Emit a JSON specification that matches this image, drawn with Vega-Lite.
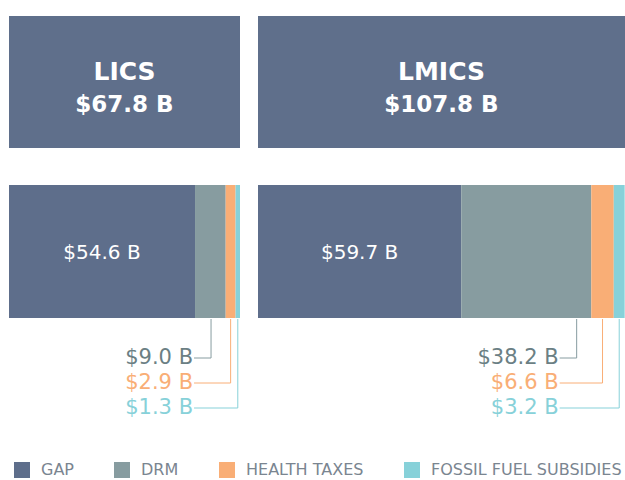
{
  "$schema": "https://vega.github.io/schema/vega-lite/v6.json",
  "padding": {"left": 9, "top": 16, "right": 0, "bottom": 0},
  "config": {"view": {"stroke": null}, "font": "DejaVu Sans", "concat": {"spacing": 18}},
  "datasets": {
    "parts": [
      {"country": "LICS", "category": "GAP", "value": 54.6, "rank": 0},
      {"country": "LICS", "category": "DRM", "value": 9.0, "rank": 1},
      {"country": "LICS", "category": "HEALTH TAXES", "value": 2.9, "rank": 2},
      {"country": "LICS", "category": "FOSSIL FUEL SUBSIDIES", "value": 1.3, "rank": 3},
      {"country": "LMICS", "category": "GAP", "value": 59.7, "rank": 0},
      {"country": "LMICS", "category": "DRM", "value": 38.2, "rank": 1},
      {"country": "LMICS", "category": "HEALTH TAXES", "value": 6.6, "rank": 2},
      {"country": "LMICS", "category": "FOSSIL FUEL SUBSIDIES", "value": 3.2, "rank": 3}
    ],
    "totals": [
      {"country": "LICS", "total": 67.8},
      {"country": "LMICS", "total": 107.8}
    ]
  },
  "vconcat": [
    {
      "hconcat": [
        {
          "width": 231, "height": 132,
          "data": {"name": "totals"},
          "transform": [
            {"filter": "datum.country === 'LICS'"},
            {"calculate": "'$' + format(datum.total, '.1f') + ' B'", "as": "amount"}
          ],
          "layer": [
            {"mark": {"type": "rect", "color": "#5f6f8b"},
             "encoding": {"x": {"field": "total", "type": "quantitative", "scale": {"domain": [0, 67.8], "nice": false}, "axis": null}, "x2": {"datum": 0}}},
            {"mark": {"type": "text", "color": "white", "fontSize": 25, "fontWeight": "bold", "baseline": "middle", "dy": -10},
             "encoding": {"text": {"field": "country"}}},
            {"mark": {"type": "text", "color": "white", "fontSize": 23, "fontWeight": "bold", "baseline": "middle", "dy": 23},
             "encoding": {"text": {"field": "amount"}}}
          ]
        },
        {
          "width": 367, "height": 132,
          "data": {"name": "totals"},
          "transform": [
            {"filter": "datum.country === 'LMICS'"},
            {"calculate": "'$' + format(datum.total, '.1f') + ' B'", "as": "amount"}
          ],
          "layer": [
            {"mark": {"type": "rect", "color": "#5f6f8b"},
             "encoding": {"x": {"field": "total", "type": "quantitative", "scale": {"domain": [0, 107.8], "nice": false}, "axis": null}, "x2": {"datum": 0}}},
            {"mark": {"type": "text", "color": "white", "fontSize": 25, "fontWeight": "bold", "baseline": "middle", "dy": -10},
             "encoding": {"text": {"field": "country"}}},
            {"mark": {"type": "text", "color": "white", "fontSize": 23, "fontWeight": "bold", "baseline": "middle", "dy": 23},
             "encoding": {"text": {"field": "amount"}}}
          ]
        }
      ]
    },
    {
      "hconcat": [
        {
          "spacing": 0,
          "vconcat": [
            {
              "width": 231, "height": 133,
              "data": {"name": "parts"},
              "transform": [
                {"filter": "datum.country === 'LICS'"},
                {"stack": "value", "groupby": ["country"], "sort": [{"field": "rank"}], "as": ["x0", "x1"]},
                {"calculate": "'$' + format(datum.value, '.1f') + ' B'", "as": "label"},
                {"calculate": "(datum.x0 + datum.x1) / 2", "as": "mid"}
              ],
              "layer": [
                {"mark": {"type": "rect"},
                 "encoding": {
                   "x": {"field": "x0", "type": "quantitative", "scale": {"domain": [0, 67.8], "nice": false}, "axis": null},
                   "x2": {"field": "x1"},
                   "color": {"field": "category", "type": "nominal",
                     "scale": {"domain": ["GAP", "DRM", "HEALTH TAXES", "FOSSIL FUEL SUBSIDIES"], "range": ["#5e6e8b", "#879ca0", "#f9ae76", "#87d1d9"]},
                     "legend": {"orient": "bottom", "direction": "horizontal", "title": null, "symbolType": "square", "symbolSize": 256, "symbolStrokeWidth": 0, "labelFontSize": 16, "labelFont": "DejaVu Sans", "labelColor": "#7a8590", "labelOffset": 11, "labelLimit": 0, "columnPadding": 40, "padding": 5, "offset": 10}}
                 }},
                {"transform": [{"filter": "datum.category === 'GAP'"}],
                 "mark": {"type": "text", "color": "white", "fontSize": 20, "baseline": "middle", "dy": 1},
                 "encoding": {"x": {"field": "mid", "type": "quantitative"}, "text": {"field": "label"}}}
              ]
            },
            {
              "width": 231, "height": 128,
              "data": {"name": "parts"},
              "transform": [
                {"filter": "datum.country === 'LICS'"},
                {"stack": "value", "groupby": ["country"], "sort": [{"field": "rank"}], "as": ["x0", "x1"]},
                {"calculate": "'$' + format(datum.value, '.1f') + ' B'", "as": "label"},
                {"filter": "datum.rank > 0"},
                {"calculate": "datum.category === 'DRM' ? datum.x1 - 4.3 : (datum.x0 + datum.x1) / 2", "as": "lead"},
                {"joinaggregate": [{"op": "min", "field": "lead", "as": "textAt"}], "groupby": ["country"]}
              ],
              "layer": [
                {"mark": {"type": "rule", "strokeWidth": 1},
                 "encoding": {
                   "x": {"field": "lead", "type": "quantitative", "scale": {"domain": [0, 67.8], "nice": false}, "axis": null},
                   "y": {"field": "rank", "type": "quantitative", "scale": {"domain": [-0.56, 4.56], "reverse": true, "nice": false, "zero": false}, "axis": null},
                   "y2": {"datum": -0.56},
                   "color": {"field": "category", "type": "nominal"}
                 }},
                {"mark": {"type": "rule", "strokeWidth": 1, "xOffset": -17},
                 "encoding": {
                   "x": {"field": "textAt", "type": "quantitative"},
                   "x2": {"field": "lead"},
                   "y": {"field": "rank", "type": "quantitative"},
                   "color": {"field": "category", "type": "nominal"}
                 }},
                {"mark": {"type": "text", "align": "right", "baseline": "middle", "dx": -18, "fontSize": 21},
                 "encoding": {
                   "x": {"field": "textAt", "type": "quantitative"},
                   "y": {"field": "rank", "type": "quantitative"},
                   "text": {"field": "label"},
                   "color": {"condition": {"test": "datum.category === 'DRM'", "value": "#6b7f84"}, "field": "category", "type": "nominal"}
                 }}
              ]
            }
          ]
        },
        {
          "spacing": 0,
          "vconcat": [
            {
              "width": 367, "height": 133,
              "data": {"name": "parts"},
              "transform": [
                {"filter": "datum.country === 'LMICS'"},
                {"stack": "value", "groupby": ["country"], "sort": [{"field": "rank"}], "as": ["x0", "x1"]},
                {"calculate": "'$' + format(datum.value, '.1f') + ' B'", "as": "label"},
                {"calculate": "(datum.x0 + datum.x1) / 2", "as": "mid"}
              ],
              "layer": [
                {"mark": {"type": "rect"},
                 "encoding": {
                   "x": {"field": "x0", "type": "quantitative", "scale": {"domain": [0, 107.8], "nice": false}, "axis": null},
                   "x2": {"field": "x1"},
                   "color": {"field": "category", "type": "nominal"}
                 }},
                {"transform": [{"filter": "datum.category === 'GAP'"}],
                 "mark": {"type": "text", "color": "white", "fontSize": 20, "baseline": "middle", "dy": 1},
                 "encoding": {"x": {"field": "mid", "type": "quantitative"}, "text": {"field": "label"}}}
              ]
            },
            {
              "width": 367, "height": 128,
              "data": {"name": "parts"},
              "transform": [
                {"filter": "datum.country === 'LMICS'"},
                {"stack": "value", "groupby": ["country"], "sort": [{"field": "rank"}], "as": ["x0", "x1"]},
                {"calculate": "'$' + format(datum.value, '.1f') + ' B'", "as": "label"},
                {"filter": "datum.rank > 0"},
                {"calculate": "datum.category === 'DRM' ? datum.x1 - 4.3 : (datum.x0 + datum.x1) / 2", "as": "lead"},
                {"joinaggregate": [{"op": "min", "field": "lead", "as": "textAt"}], "groupby": ["country"]}
              ],
              "layer": [
                {"mark": {"type": "rule", "strokeWidth": 1},
                 "encoding": {
                   "x": {"field": "lead", "type": "quantitative", "scale": {"domain": [0, 107.8], "nice": false}, "axis": null},
                   "y": {"field": "rank", "type": "quantitative", "scale": {"domain": [-0.56, 4.56], "reverse": true, "nice": false, "zero": false}, "axis": null},
                   "y2": {"datum": -0.56},
                   "color": {"field": "category", "type": "nominal"}
                 }},
                {"mark": {"type": "rule", "strokeWidth": 1, "xOffset": -17},
                 "encoding": {
                   "x": {"field": "textAt", "type": "quantitative"},
                   "x2": {"field": "lead"},
                   "y": {"field": "rank", "type": "quantitative"},
                   "color": {"field": "category", "type": "nominal"}
                 }},
                {"mark": {"type": "text", "align": "right", "baseline": "middle", "dx": -18, "fontSize": 21},
                 "encoding": {
                   "x": {"field": "textAt", "type": "quantitative"},
                   "y": {"field": "rank", "type": "quantitative"},
                   "text": {"field": "label"},
                   "color": {"condition": {"test": "datum.category === 'DRM'", "value": "#6b7f84"}, "field": "category", "type": "nominal"}
                 }}
              ]
            }
          ]
        }
      ]
    }
  ],
  "spacing": 37
}
